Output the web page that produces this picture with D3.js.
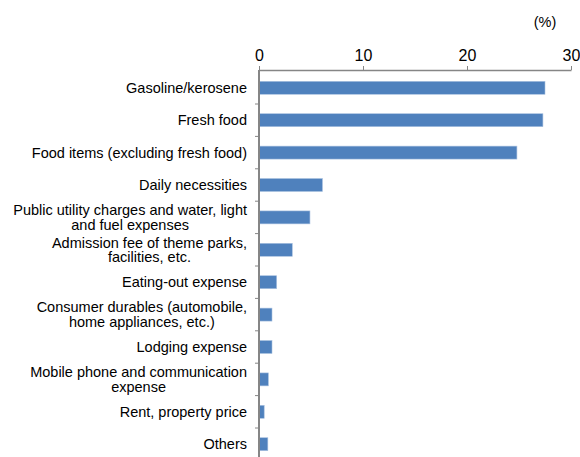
<!DOCTYPE html>
<html>
<head>
<meta charset="utf-8">
<script src="https://cdn.jsdelivr.net/npm/d3@7"></script>
<style>
  html, body { margin: 0; padding: 0; background: #fff; }
  svg { display: block; font-family: Arial, "Liberation Sans", sans-serif; }
</style>
</head>
<body>
<svg id="chart" width="580" height="457"></svg>
<script>
// Categories (each entry is a list of label lines)
const categories = [
  ["Gasoline/kerosene"],
  ["Fresh food"],
  ["Food items (excluding fresh food)"],
  ["Daily necessities"],
  ["Public utility charges and water, light", "and fuel expenses"],
  ["Admission fee of theme parks,", "facilities, etc."],
  ["Eating-out expense"],
  ["Consumer durables (automobile,", "home appliances, etc.)"],
  ["Lodging expense"],
  ["Mobile phone and communication", "expense"],
  ["Rent, property price"],
  ["Others"]
];
// Share of responses (%)
const values = [27.5, 27.3, 24.8, 6.1, 4.9, 3.2, 1.7, 1.25, 1.25, 0.9, 0.5, 0.85];
const xTicks = [0, 10, 20, 30];
const unitLabel = "(%)";

const svg = d3.select("#chart");
const plotLeft = 259, plotRight = 571, plotTop = 71.6, bandH = 32.4;
const keys = categories.map((c, i) => i);

const x = d3.scaleLinear().domain([0, 30]).range([plotLeft, plotRight]);
const y = d3.scaleBand().domain(keys)
  .range([plotTop, plotTop + bandH * keys.length])
  .paddingInner(0.6).paddingOuter(0.3);

const axisColor = "#868686";

// Top value axis
const xAxis = svg.append("g")
  .attr("transform", "translate(0,70)")
  .call(d3.axisTop(x).tickValues(xTicks).tickSize(4).tickSizeOuter(0).tickPadding(5));
xAxis.select(".domain").attr("stroke", axisColor).attr("stroke-width", 1.5);
xAxis.selectAll(".tick line").attr("stroke", axisColor);
xAxis.selectAll(".tick text").attr("fill", "#000").attr("font-size", 16)
  .attr("font-family", "Arial, 'Liberation Sans', sans-serif");

// Unit label
svg.append("text").attr("x", 545).attr("y", 27).attr("text-anchor", "middle")
  .attr("font-size", 14.5).attr("fill", "#000").text(unitLabel);

// Bars
svg.append("g").selectAll("rect").data(values).join("rect")
  .attr("x", x(0))
  .attr("y", (d, i) => y(i))
  .attr("width", d => x(d) - x(0))
  .attr("height", y.bandwidth())
  .attr("fill", "#4F81BD")
  .attr("stroke", "#a9c1e0")
  .attr("stroke-width", 0.6);

// Category axis line and separator ticks
const yLine = svg.append("g");
yLine.append("line")
  .attr("x1", plotLeft).attr("x2", plotLeft)
  .attr("y1", 70).attr("y2", 457)
  .attr("stroke", axisColor).attr("stroke-width", 2);
yLine.selectAll("line.sep").data(keys.slice(1)).join("line")
  .attr("class", "sep")
  .attr("x1", plotLeft - 4).attr("x2", plotLeft)
  .attr("y1", d => plotTop + bandH * d).attr("y2", d => plotTop + bandH * d)
  .attr("stroke", axisColor).attr("stroke-width", 1);

// Category labels: right-aligned block, lines centred within it
const labelRight = 247;
const lineH = 14.5;
const labelG = svg.append("g").attr("font-size", 14.5).attr("fill", "#000");
categories.forEach((lines, i) => {
  const cy = y(i) + y.bandwidth() / 2;
  const widths = lines.map(s => {
    const n = labelG.append("text").text(s);
    const w = n.node().getComputedTextLength();
    n.remove();
    return w;
  });
  const cx = labelRight - d3.max(widths) / 2;
  const t = labelG.append("text").attr("text-anchor", "middle");
  lines.forEach((s, j) => {
    const off = (j - (lines.length - 1) / 2) * lineH;
    t.append("tspan").attr("x", cx).attr("y", cy + off).attr("dy", "0.35em").text(s);
  });
});
</script>
</body>
</html>
